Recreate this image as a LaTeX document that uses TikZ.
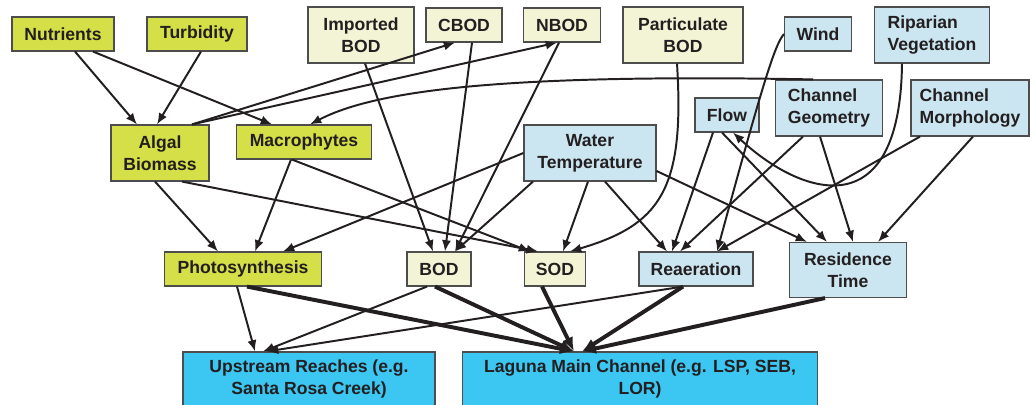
\documentclass[tikz,border=0pt]{standalone}
\usepackage{fontspec}
\setmainfont{Liberation Sans}
\usetikzlibrary{arrows.meta,calc}
\definecolor{algae}{HTML}{D5DF47}
\definecolor{oxygen}{HTML}{F3F3D6}
\definecolor{physics}{HTML}{CBE5F1}
\definecolor{reach}{HTML}{3CC6F2}
\definecolor{ink}{HTML}{231F20}
\definecolor{rim}{HTML}{4D4D4D}
\tikzset{
  factor/.style={draw=rim, line width=0.8pt, align=center, inner sep=2pt, text=ink,
                 font=\fontsize{12.5}{15.5}\selectfont\bfseries, minimum height=0.85cm},
  twoline/.style={minimum height=1.4cm},
  % one fill per family of factors: biology, oxygen demand, physical setting
  growth/.style={factor, fill=algae},
  demand/.style={factor, fill=oxygen},
  setting/.style={factor, fill=physics},
  outcome/.style={factor, fill=reach, minimum height=1.35cm},
  link/.style={draw=ink, line width=1.4pt, -{Latex[length=8pt,width=6.5pt]}},
  effect/.style={draw=ink, line width=2.8pt, -{Latex[length=10pt,width=8pt]}},
}

\begin{document}
\begin{tikzpicture}[x=0.025cm, y=-0.025cm]
  \useasboundingbox (0,0) rectangle (1030,405);

  % --- drivers, top rows ----------------------------------------------------
  \node[growth, minimum width=2.55cm] (nut) at (63,34) {Nutrients};
  \node[growth, minimum width=2.5cm]  (tur) at (197,34) {Turbidity};
  \node[demand, twoline, minimum width=2.65cm] (imp) at (361,35) {Imported\\BOD};
  \node[demand, minimum width=1.9cm]  (cbod) at (464,25) {CBOD};
  \node[demand, minimum width=1.925cm] (nbod) at (562,25) {NBOD};
  \node[demand, twoline, minimum width=3cm] (part) at (683,35) {Particulate\\BOD};
  \node[setting, minimum width=1.675cm] (wind) at (818,34) {Wind};
  \node[setting, twoline, minimum width=2.875cm, align=left] (rip) at (932,35) {Riparian\\Vegetation};
  \node[setting, minimum width=1.6cm] (flow) at (727,115) {Flow};
  \node[setting, twoline, minimum width=2.675cm, align=left] (geo) at (829,108) {Channel\\Geometry};
  \node[setting, twoline, minimum width=2.95cm, align=left] (morph) at (970,108) {Channel\\Morphology};

  % --- intermediate factors -------------------------------------------------
  \node[growth, twoline, minimum width=2.45cm] (alg) at (160,153) {Algal\\Biomass};
  \node[growth, minimum width=3.375cm] (mac) at (304,142) {Macrophytes};
  \node[setting, twoline, minimum width=3.3cm] (wt) at (590,153) {Water\\Temperature};

  % --- processes --------------------------------------------------------------
  \node[growth, minimum width=3.925cm] (ps) at (243,269) {Photosynthesis};
  \node[demand, minimum width=1.6cm]   (bod) at (439,269) {BOD};
  \node[demand, minimum width=1.525cm] (sod) at (555,269) {SOD};
  \node[setting, minimum width=2.85cm] (rea) at (696,269) {Reaeration};
  \node[setting, minimum width=2.925cm, minimum height=1.375cm] (res) at (848,270) {Residence\\Time};

  % --- receiving waters -------------------------------------------------------
  \node[outcome, minimum width=6.3cm]   (up)  at (309,379) {Upstream Reaches (e.g.\\Santa Rosa Creek)};
  \node[outcome, minimum width=8.875cm] (lag) at (640,379) {Laguna Main Channel (e.g. LSP, SEB,\\LOR)};

  % --- links from the top rows ----------------------------------------------
  \draw[link] ($(nut.south)+(12,0)$) -- ($(alg.north)+(-23,0)$);
  \draw[link] ($(nut.south)+(30,0)$) -- ($(mac.north)+(-32,0)$);
  \draw[link] ($(tur.south)+(4,0)$) -- ($(alg.north)+(-3,0)$);
  \draw[link] ($(alg.north)+(32,0)$) -- ($(cbod.south)+(-9,0)$);
  \draw[link] ($(alg.north)+(32,0)$) -- ($(nbod.south)+(-5,0)$);
  \draw[link] ($(geo.north)+(-16,0)$) .. controls (520,74) and (380,88) .. ($(mac.north)+(6,0)$);

  % --- into photosynthesis, BOD and SOD ------------------------------------
  \draw[link] ($(alg.south)+(-5,0)$) -- ($(ps.north)+(-25,0)$);
  \draw[link] ($(alg.south)+(22,0)$) -- ($(sod.north)+(-17,0)$);
  \draw[link] ($(mac.south)+(-13,0)$) -- ($(ps.north)+(12,0)$);
  \draw[link] ($(mac.south)+(-12,0)$) -- ($(sod.north)+(-25,0)$);
  \draw[link] (wt.west) -- ($(ps.north)+(40,0)$);
  \draw[link] ($(imp.south)+(4,0)$) -- ($(bod.north)+(-6,0)$);
  \draw[link] ($(cbod.south)+(8,0)$) -- ($(bod.north)+(6,0)$);
  \draw[link] ($(nbod.south)+(-3,0)$) -- ($(bod.north)+(16,0)$);
  \draw[link] ($(wt.south)+(-57,0)$) -- ($(bod.north)+(16,0)$);
  \draw[link] ($(wt.south)+(-2,0)$) -- ($(sod.north)+(8,0)$);
  \draw[link] ($(part.south)+(-6,0)$) .. controls (685,190) and (660,225) .. ($(sod.north)+(15,0)$);

  % --- into reaeration and residence time -----------------------------------
  \draw[link] ($(wt.south)+(15,0)$) -- ($(rea.north)+(-29,0)$);
  \draw[link] ($(wt.east)+(0,18)$) -- ($(res.north)+(-41,0)$);
  \draw[link] ($(flow.south)+(-14,0)$) -- ($(rea.north)+(-24,0)$);
  \draw[link] ($(flow.south)+(-5,0)$) -- ($(res.north)+(-21,0)$);
  \draw[link] ($(geo.south)+(-26,0)$) -- ($(rea.north)+(-16,0)$);
  \draw[link] ($(geo.south)+(-9,0)$) -- ($(res.north)+(5,0)$);
  \draw[link] ($(morph.south)+(-50,0)$) -- ($(rea.north)+(21,0)$);
  \draw[link] ($(morph.south)+(3,0)$) -- ($(res.north)+(30,0)$);
  \draw[link] (wind.west) .. controls (775,45) and (765,75) .. ($(rea.north)+(21,0)$);
  \draw[link] ($(rip.south)+(-30,0)$) .. controls (900,230) and (800,195) .. ($(flow.south)+(6,0)$);

  % --- effects on the reaches: thin upstream, heavy on the main channel -----
  \draw[link] ($(ps.south)+(-6,0)$) -- ($(up.north)+(-54,0)$);
  \draw[link] ($(bod.south)+(-12,0)$) -- ($(up.north)+(-46,0)$);
  \draw[link] ($(rea.south)+(-13,0)$) -- ($(up.north)+(-42,0)$);
  \draw[effect] ($(ps.south)+(4,0)$) -- ($(lag.north)+(-66,0)$);
  \draw[effect] ($(bod.south)+(-4,0)$) -- ($(lag.north)+(-66,0)$);
  \draw[effect] ($(sod.south)+(-13,0)$) -- ($(lag.north)+(-66,0)$);
  \draw[effect] ($(rea.south)+(-13,0)$) -- ($(lag.north)+(-58,0)$);
  \draw[effect] ($(res.south)+(-23,0)$) -- ($(lag.north)+(-58,0)$);

\end{tikzpicture}
\end{document}
